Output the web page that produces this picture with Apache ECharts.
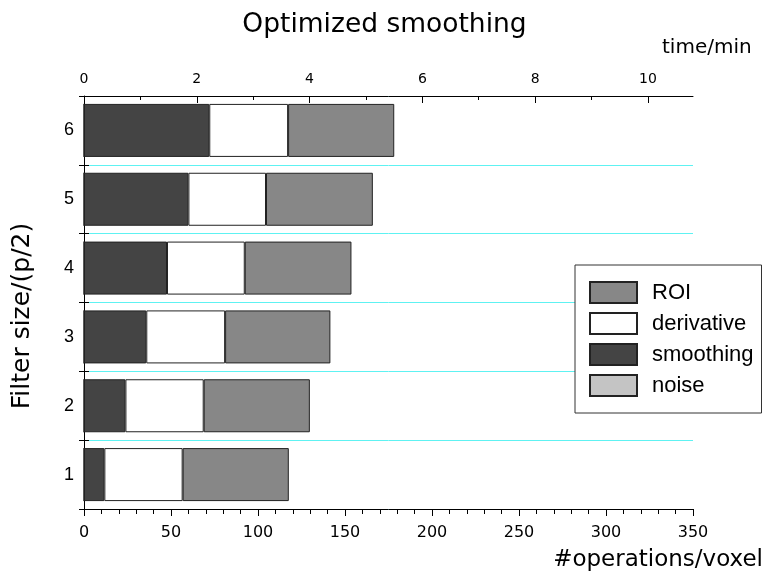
<!DOCTYPE html>
<html>
<head>
<meta charset="utf-8">
<script src="https://cdn.jsdelivr.net/npm/echarts@6/dist/echarts.min.js"></script>
<style>
  html, body { margin: 0; padding: 0; background: #fff; }
  #chart { width: 769px; height: 576px; }
</style>
</head>
<body>
<div id="chart"></div>
<script>
// Filter size categories (p/2)
const categories = ['1', '2', '3', '4', '5', '6'];

// Operations per voxel, split by processing stage (stacked left to right)
const noise      = [0, 0, 0, 0, 0, 0];
const smoothing  = [11.7, 23.8, 35.8, 47.7, 60.0, 72.0];
const derivative = [45.0, 45.0, 45.3, 44.7, 44.6, 45.3];
const roi        = [61.0, 61.0, 60.5, 61.3, 61.4, 61.0];

// Axis ticks
const opsTicks = [0, 50, 100, 150, 200, 250, 300, 350];
const timeLabelTicks = [0, 2, 4, 6, 8, 10];
const timeMinorTicks = [1, 3, 5, 7, 9];
const opsMax = 350;
const timeMax = 10.8;   // time span matching opsMax

const SANS = 'DejaVu Sans';
const ARIAL = 'Liberation Sans';
const EDGE = '#222';

const chart = echarts.init(document.getElementById('chart'), null, { renderer: 'canvas' });

function stage(name, data, color) {
  return {
    name: name,
    type: 'bar',
    stack: 'ops',
    data: data,
    barWidth: 53,
    xAxisIndex: 0,
    yAxisIndex: 0,
    itemStyle: { color: color, borderColor: EDGE, borderWidth: 1 },
    emphasis: { disabled: true },
    animation: false
  };
}

chart.setOption({
  animation: false,
  backgroundColor: '#fff',
  title: {
    text: 'Optimized smoothing',
    left: 'center',
    top: 12,
    padding: 0,
    textStyle: { fontFamily: SANS, fontSize: 26.5, fontWeight: 'normal', color: '#000' }
  },
  legend: {
    data: ['ROI', 'derivative', 'smoothing', 'noise'],
    orient: 'vertical',
    left: 575,
    top: 265,
    padding: [16, 8, 16, 14],
    backgroundColor: '#fff',
    borderColor: '#333',
    borderWidth: 1,
    borderRadius: 0,
    icon: 'rect',
    itemWidth: 47,
    itemHeight: 21,
    itemGap: 8,
    selectedMode: false,
    textStyle: {
      fontFamily: ARIAL, fontSize: 22, color: '#000',
      lineHeight: 21, padding: [0, 0, 0, 10]
    }
  },
  grid: { left: 84, right: 76, top: 96, height: 413, containLabel: false },
  xAxis: [
    {
      type: 'value',
      position: 'bottom',
      min: 0, max: opsMax, interval: 50,
      name: '#operations/voxel',
      nameLocation: 'end',
      nameGap: 70,
      nameTextStyle: {
        fontFamily: SANS, fontSize: 23, color: '#000',
        align: 'right', verticalAlign: 'top', padding: [40, 0, 0, 0]
      },
      axisLine: { show: true, lineStyle: { color: '#000', width: 1 } },
      axisTick: { show: true, length: 7, lineStyle: { color: '#000' } },
      minorTick: { show: true, splitNumber: 5, length: 5, lineStyle: { color: '#000' } },
      axisLabel: {
        fontFamily: SANS, fontSize: 16, color: '#000', margin: 16,
        customValues: opsTicks
      },
      splitLine: { show: false }
    },
    {
      type: 'value',
      position: 'top',
      min: 0, max: timeMax,
      name: 'time/min',
      nameLocation: 'end',
      nameGap: -31,
      nameTextStyle: {
        fontFamily: SANS, fontSize: 20, color: '#000',
        align: 'left', verticalAlign: 'bottom', padding: [0, 0, 38, 0]
      },
      axisLine: { show: true, lineStyle: { color: '#000', width: 1 } },
      axisTick: { show: true, inside: true, length: 7, lineStyle: { color: '#000' }, customValues: timeLabelTicks },
      axisLabel: { fontFamily: SANS, fontSize: 14, color: '#000', margin: 10, customValues: timeLabelTicks },
      splitLine: { show: false }
    },
    {
      type: 'value',
      position: 'top',
      min: 0, max: timeMax,
      axisLine: { show: false },
      axisTick: { show: true, inside: true, length: 4, lineStyle: { color: '#000' }, customValues: timeMinorTicks },
      axisLabel: { show: false },
      splitLine: { show: false }
    }
  ],
  yAxis: [
    {
      type: 'category',
      data: categories,
      position: 'left',
      name: 'Filter size/(p/2)',
      nameLocation: 'middle',
      nameGap: 49,
      nameTextStyle: { fontFamily: SANS, fontSize: 25, color: '#000', padding: [0, 27, 0, 0] },
      axisLine: { show: true, lineStyle: { color: '#000', width: 1 } },
      axisTick: { show: true, length: 5, lineStyle: { color: '#000' } },
      axisLabel: { fontFamily: ARIAL, fontSize: 18, color: '#000', margin: 10 },
      splitLine: { show: true, lineStyle: { color: '#5ef2f2', width: 1 } }
    },
    {
      type: 'category',
      data: categories,
      position: 'left',
      axisLine: { show: false },
      axisTick: { show: true, inside: true, length: 5, lineStyle: { color: '#000' } },
      axisLabel: { show: false },
      splitLine: { show: false }
    }
  ],
  series: [
    stage('noise', noise, '#c4c4c4'),
    stage('smoothing', smoothing, '#444444'),
    stage('derivative', derivative, '#ffffff'),
    stage('ROI', roi, '#878787')
  ]
});
</script>
</body>
</html>
